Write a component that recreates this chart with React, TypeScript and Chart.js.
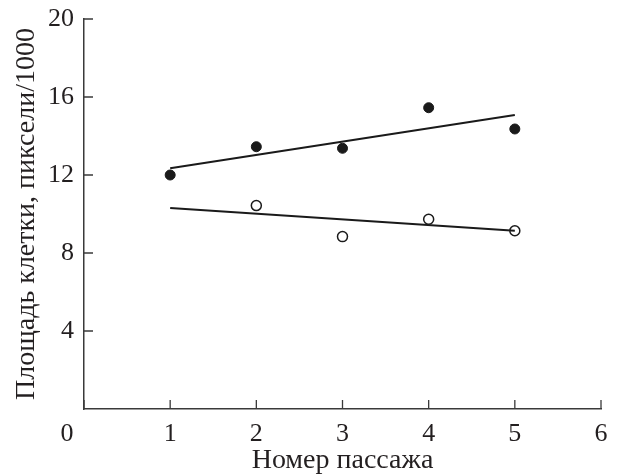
import React, { useEffect, useRef } from "react";
import { Chart, registerables } from "chart.js";

Chart.register(...registerables);

const passages = [1, 2, 3, 4, 5];
const filledValues = [12.0, 13.45, 13.37, 15.45, 14.36];
const openPassages = [2, 3, 4, 5];
const openValues = [10.43, 8.84, 9.73, 9.14];
const trendX = [1, 5];
const filledTrend = [12.35, 15.08];
const openTrend = [10.31, 9.14];
const xTickValues = [0, 1, 2, 3, 4, 5, 6];
const yTickValues = [4, 8, 12, 16, 20];
const xTitle = "Номер пассажа";
const yTitle = "Площадь клетки, пиксели/1000";

const FONT = "'Liberation Serif', 'Times New Roman', serif";
const TEXT = "#231f20";
const AXIS = "#3a3a3a";
const MARK = "#1a1a1a";
const TICK_SIZE = 26;
const TITLE_SIZE = 28;

const tickPlugin = {
  id: "innerTicks",
  afterDraw(chart: any) {
    const { ctx, chartArea, scales } = chart;
    const xs = scales.x;
    const ys = scales.y;
    ctx.save();
    ctx.strokeStyle = AXIS;
    ctx.lineWidth = 1.3;
    ctx.beginPath();
    yTickValues.forEach((v) => {
      const py = ys.getPixelForValue(v);
      ctx.moveTo(chartArea.left, py);
      ctx.lineTo(chartArea.left + 9, py);
    });
    xTickValues.forEach((v) => {
      const px = xs.getPixelForValue(v);
      ctx.moveTo(px, chartArea.bottom);
      ctx.lineTo(px, chartArea.bottom - 9);
    });
    ctx.stroke();
    // origin "0" label, offset to the left of the axis corner
    ctx.fillStyle = TEXT;
    ctx.font = `${TICK_SIZE}px ${FONT}`;
    ctx.textAlign = "center";
    ctx.textBaseline = "middle";
    ctx.fillText("0", xs.getPixelForValue(0) - 17, chartArea.bottom + 25);
    ctx.restore();
  },
};

export default function App() {
  const ref = useRef<HTMLCanvasElement | null>(null);
  useEffect(() => {
    if (!ref.current) return;
    const chart = new Chart(ref.current, {
      type: "scatter",
      data: {
        datasets: [
          {
            type: "line",
            data: trendX.map((x, i) => ({ x, y: filledTrend[i] })),
            borderColor: MARK,
            borderWidth: 2,
            pointRadius: 0,
            fill: false,
          },
          {
            type: "line",
            data: trendX.map((x, i) => ({ x, y: openTrend[i] })),
            borderColor: MARK,
            borderWidth: 2,
            pointRadius: 0,
            fill: false,
          },
          {
            data: passages.map((x, i) => ({ x, y: filledValues[i] })),
            backgroundColor: MARK,
            borderColor: MARK,
            borderWidth: 1,
            pointRadius: 5,
          },
          {
            data: openPassages.map((x, i) => ({ x, y: openValues[i] })),
            backgroundColor: "#ffffff",
            borderColor: MARK,
            borderWidth: 1.5,
            pointRadius: 5,
          },
        ] as any,
      },
      options: {
        animation: false,
        responsive: true,
        maintainAspectRatio: false,
        layout: { padding: { top: 19, right: 20, left: 0, bottom: 0 } },
        plugins: { legend: { display: false }, tooltip: { enabled: false } },
        scales: {
          x: {
            type: "linear",
            min: 0,
            max: 6,
            afterFit: (s: any) => {
              s.height = 66;
              s.paddingLeft = 0;
              s.paddingRight = 0;
            },
            afterBuildTicks: (s: any) => {
              s.ticks = xTickValues.map((v) => ({ value: v }));
            },
            ticks: {
              callback: (v: any) => (v === 0 ? "" : String(v)),
              font: { family: FONT, size: TICK_SIZE },
              color: TEXT,
              padding: 10,
              maxRotation: 0,
            },
            grid: { display: false, drawTicks: false },
            border: { display: true, color: AXIS, width: 1.5 },
            title: {
              display: true,
              text: xTitle,
              font: { family: FONT, size: TITLE_SIZE, lineHeight: 1 },
              color: TEXT,
              padding: { top: 0, bottom: 0 },
            },
          },
          y: {
            type: "linear",
            min: 0,
            max: 20,
            afterFit: (s: any) => {
              s.width = 84;
              s.paddingTop = 0;
              s.paddingBottom = 0;
            },
            afterBuildTicks: (s: any) => {
              s.ticks = [0, ...yTickValues].map((v) => ({ value: v }));
            },
            ticks: {
              callback: (v: any) => (v === 0 ? "" : String(v)),
              font: { family: FONT, size: TICK_SIZE },
              color: TEXT,
              padding: 10,
            },
            grid: { display: false, drawTicks: false },
            border: { display: true, color: AXIS, width: 1.5 },
            title: {
              display: true,
              text: yTitle,
              font: { family: FONT, size: TITLE_SIZE, lineHeight: 1 },
              color: TEXT,
              padding: { top: 13, bottom: 0 },
            },
          },
        },
      },
      plugins: [tickPlugin],
    });
    return () => chart.destroy();
  }, []);
  return (
    <div style={{ position: "absolute", left: 0, top: 0, width: 621, height: 475, background: "#fff" }}>
      <canvas ref={ref} />
    </div>
  );
}
